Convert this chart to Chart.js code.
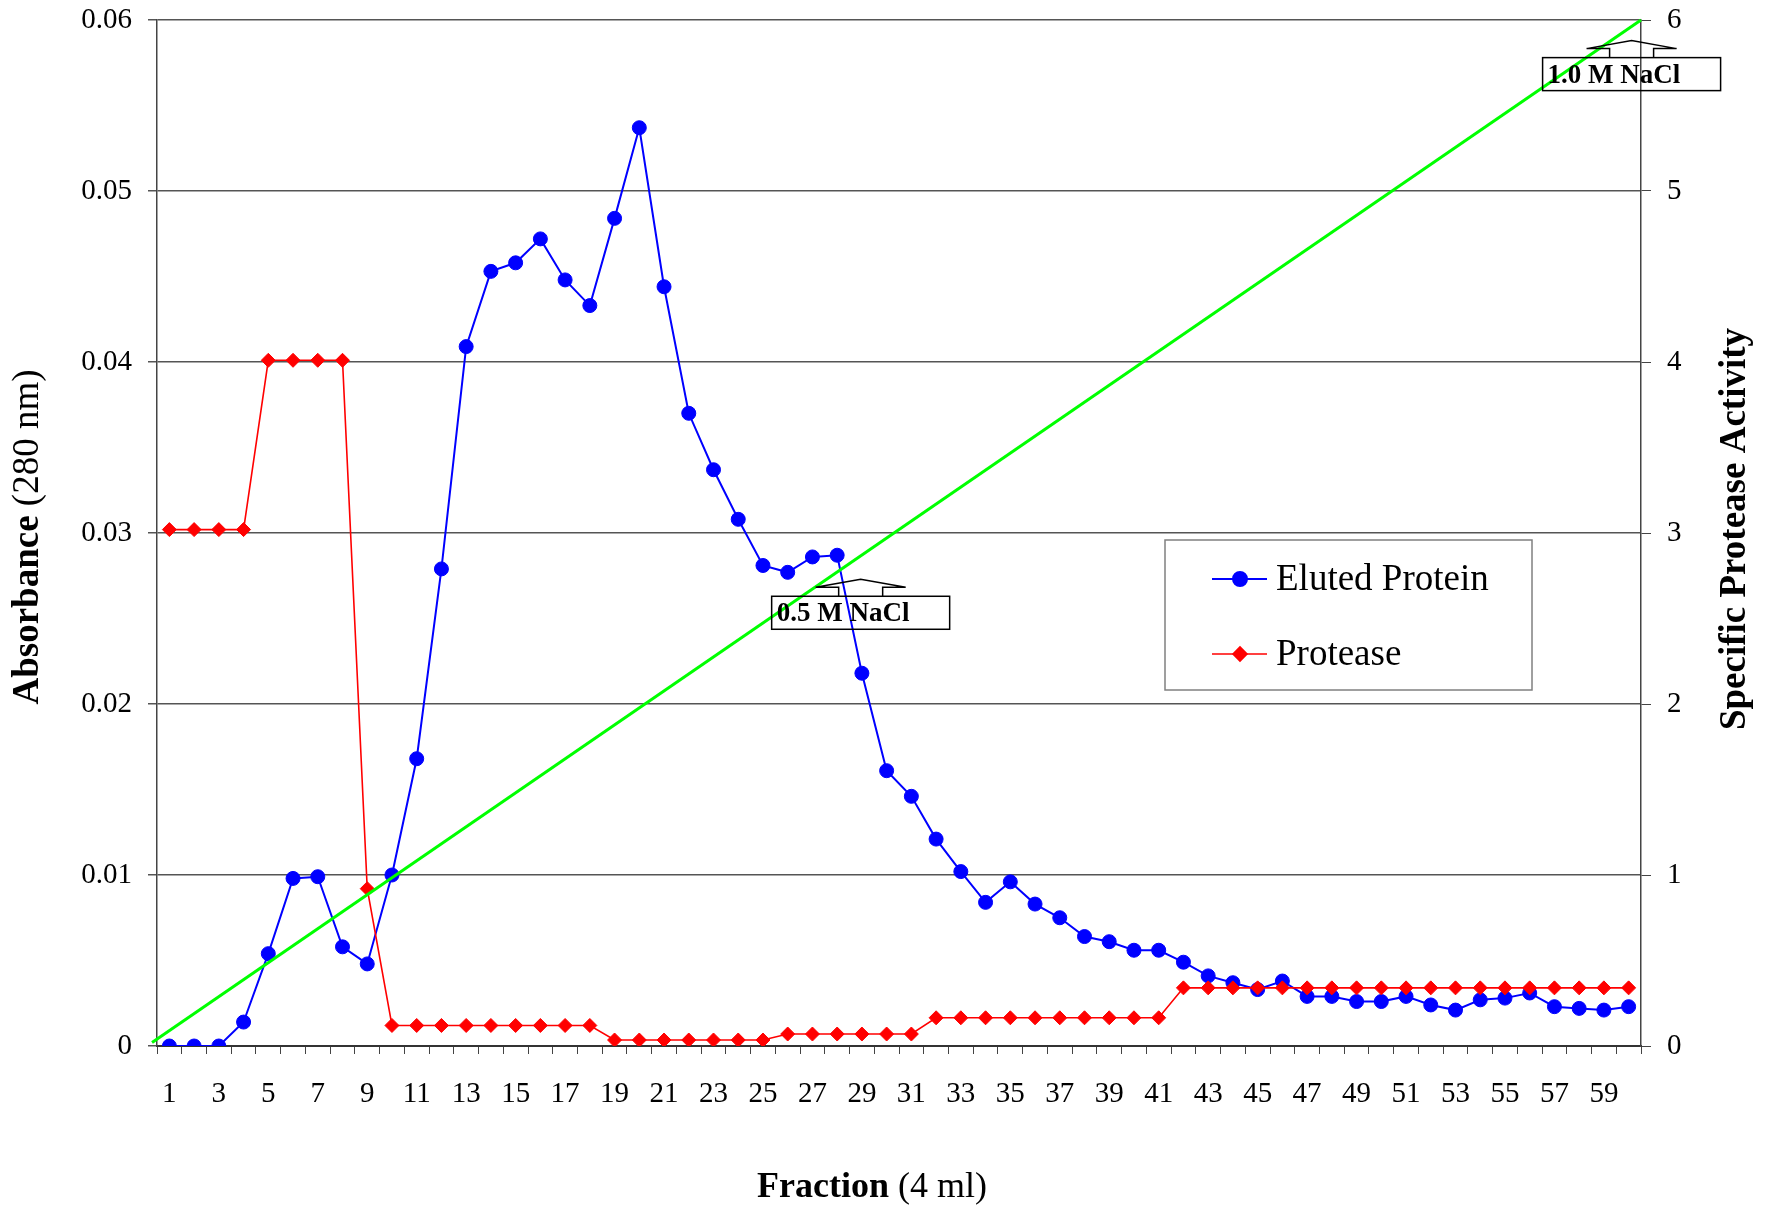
<!DOCTYPE html>
<html>
<head>
<meta charset="utf-8">
<script src="https://cdn.jsdelivr.net/npm/chart.js@4"></script>
<style>
  html, body { margin: 0; padding: 0; background: #fff; }
  #wrap { width: 1775px; height: 1208px; position: relative; }
</style>
</head>
<body>
<div id="wrap"><canvas id="chart"></canvas></div>
<script>
// fraction numbers (4 ml each)
let fractions = [1, 2, 3, 4, 5, 6, 7, 8, 9, 10, 11, 12, 13, 14, 15, 16, 17, 18, 19, 20,
  21, 22, 23, 24, 25, 26, 27, 28, 29, 30, 31, 32, 33, 34, 35, 36, 37, 38, 39, 40,
  41, 42, 43, 44, 45, 46, 47, 48, 49, 50, 51, 52, 53, 54, 55, 56, 57, 58, 59, 60];

// absorbance at 280 nm (left axis)
let elutedProtein = [0, 0, 0, 0.0014, 0.0054, 0.0098, 0.0099, 0.0058, 0.0048, 0.0100,
  0.0168, 0.0279, 0.0409, 0.0453, 0.0458, 0.0472, 0.0448, 0.0433, 0.0484, 0.0537,
  0.0444, 0.0370, 0.0337, 0.0308, 0.0281, 0.0277, 0.0286, 0.0287, 0.0218, 0.0161,
  0.0146, 0.0121, 0.0102, 0.0084, 0.0096, 0.0083, 0.0075, 0.0064, 0.0061, 0.0056,
  0.0056, 0.0049, 0.0041, 0.0037, 0.0033, 0.0038, 0.0029, 0.0029, 0.0026, 0.0026,
  0.0029, 0.0024, 0.0021, 0.0027, 0.0028, 0.0031, 0.0023, 0.0022, 0.0021, 0.0023];

// specific protease activity (right axis)
let protease = [3.02, 3.02, 3.02, 3.02, 4.01, 4.01, 4.01, 4.01, 0.92, 0.12,
  0.12, 0.12, 0.12, 0.12, 0.12, 0.12, 0.12, 0.12, 0.035, 0.035,
  0.035, 0.035, 0.035, 0.035, 0.035, 0.07, 0.07, 0.07, 0.07, 0.07,
  0.07, 0.165, 0.165, 0.165, 0.165, 0.165, 0.165, 0.165, 0.165, 0.165,
  0.165, 0.34, 0.34, 0.34, 0.34, 0.34, 0.34, 0.34, 0.34, 0.34,
  0.34, 0.34, 0.34, 0.34, 0.34, 0.34, 0.34, 0.34, 0.34, 0.34];

// NaCl gradient line (two ends, right axis units)
let gradientX = [0.3, 60.5];
let gradientY = [0.02, 6];

let callouts = [
  { text: "0.5 M NaCl", x: 28.95, y: 2.63 },
  { text: "1.0 M NaCl", x: 60.12, y: 5.78 },
];

const serif = "'Liberation Serif', 'Times New Roman', serif";

function mixedText(ctx, parts, x, y) {
  let total = 0;
  for (const p of parts) { ctx.font = p[1]; total += ctx.measureText(p[0]).width; }
  let cx = x - total / 2;
  ctx.textAlign = "left";
  ctx.textBaseline = "middle";
  for (const p of parts) {
    ctx.font = p[1];
    ctx.fillText(p[0], cx, y);
    cx += ctx.measureText(p[0]).width;
  }
}

const decorations = {
  id: "decorations",
  afterDraw(chart) {
    const ctx = chart.ctx;
    const xg = chart.scales.xg;
    const y2 = chart.scales.y2;
    ctx.save();
    ctx.fillStyle = "#000";

    // axis titles
    mixedText(ctx, [["Fraction", "bold 36px " + serif], [" (4 ml)", "36px " + serif]], 872, 1188);
    ctx.save();
    ctx.translate(28, 537);
    ctx.rotate(-Math.PI / 2);
    mixedText(ctx, [["Absorbance", "bold 37px " + serif], [" (280 nm)", "37px " + serif]], 0, 0);
    ctx.restore();
    ctx.save();
    ctx.translate(1735, 529);
    ctx.rotate(-Math.PI / 2);
    mixedText(ctx, [["Specific Protease Activity", "bold 37px " + serif]], 0, 0);
    ctx.restore();

    // callout boxes
    ctx.strokeStyle = "#000";
    ctx.lineWidth = 1.5;
    for (const c of callouts) {
      const cx = xg.getPixelForValue(c.x);
      const ty = y2.getPixelForValue(c.y);
      ctx.strokeRect(cx - 89, ty, 178, 33);
      ctx.beginPath();
      ctx.moveTo(cx - 22, ty);
      ctx.lineTo(cx - 22, ty - 9);
      ctx.lineTo(cx - 45, ty - 9);
      ctx.lineTo(cx, ty - 17);
      ctx.lineTo(cx + 45, ty - 9);
      ctx.lineTo(cx + 22, ty - 9);
      ctx.lineTo(cx + 22, ty);
      ctx.stroke();
      ctx.font = "bold 27px " + serif;
      ctx.textAlign = "left";
      ctx.textBaseline = "middle";
      ctx.fillText(c.text, cx - 84, ty + 18);
    }

    // legend
    ctx.strokeStyle = "#808080";
    ctx.lineWidth = 1.5;
    ctx.strokeRect(1165, 540, 367, 150);
    const rows = [579, 654];
    [0, 1].forEach((di, k) => {
      const ds = chart.data.datasets[di];
      const y = rows[k];
      ctx.strokeStyle = ds.borderColor;
      ctx.fillStyle = ds.backgroundColor;
      ctx.lineWidth = ds.borderWidth;
      ctx.beginPath();
      ctx.moveTo(1212, y);
      ctx.lineTo(1267, y);
      ctx.stroke();
      Chart.helpers.drawPoint(ctx, { pointStyle: ds.pointStyle, radius: ds.pointRadius, rotation: 0, borderWidth: 1 }, 1240, y);
      ctx.fillStyle = "#000";
      ctx.font = "37px " + serif;
      ctx.textAlign = "left";
      ctx.textBaseline = "middle";
      ctx.fillText(ds.label, 1276, y + 1);
    });
    ctx.restore();
  },
};

let ctx = document.getElementById("chart").getContext("2d");
let myChart = new Chart(ctx, {
  type: "line",
  data: {
    labels: fractions,
    datasets: [
      {
        label: "Eluted Protein",
        data: elutedProtein,
        yAxisID: "y",
        borderColor: "#0000FF",
        backgroundColor: "#0000FF",
        borderWidth: 2,
        pointStyle: "circle",
        pointRadius: 7,
        pointBorderWidth: 1,
        tension: 0,
        order: 2,
      },
      {
        label: "Protease",
        data: protease,
        yAxisID: "y2",
        borderColor: "#FF0000",
        backgroundColor: "#FF0000",
        borderWidth: 1.6,
        pointStyle: "rectRot",
        pointRadius: 7,
        pointBorderWidth: 1,
        tension: 0,
        order: 1,
      },
      {
        label: "NaCl gradient",
        data: gradientX.map((x, i) => ({ x: x, y: gradientY[i] })),
        xAxisID: "xg",
        yAxisID: "y2",
        borderColor: "#00FF00",
        backgroundColor: "#00FF00",
        borderWidth: 3,
        pointRadius: 0,
        clip: false,
        order: 0,
      },
    ],
  },
  options: {
    responsive: true,
    maintainAspectRatio: false,
    animation: false,
    layout: { padding: { top: 20, left: 0, right: 0, bottom: 0 } },
    plugins: {
      legend: { display: false },
      tooltip: { enabled: false },
    },
    scales: {
      x: {
        type: "category",
        offset: true,
        afterFit: (s) => { s.height = 162; },
        grid: { offset: true, drawOnChartArea: false, drawTicks: true, tickLength: 8, color: "#444" },
        border: { color: "#333", width: 2 },
        ticks: {
          autoSkip: false,
          maxRotation: 0,
          padding: 23,
          color: "#000",
          font: { family: serif, size: 29 },
          callback: function (v, i) { return i % 2 === 0 ? String(fractions[i]) : ""; },
        },
      },
      xg: {
        type: "linear",
        min: 0.5,
        max: 60.5,
        display: false,
      },
      y: {
        position: "left",
        min: 0,
        max: 0.06,
        afterFit: (s) => { s.width = 157; s.paddingTop = 0; s.paddingBottom = 0; },
        grid: { color: "#555", lineWidth: 1.5, tickLength: 9 },
        border: { color: "#444", width: 1.5 },
        ticks: {
          stepSize: 0.01,
          padding: 16,
          color: "#000",
          font: { family: serif, size: 29 },
          callback: (v) => String(+v.toFixed(2)),
        },
      },
      y2: {
        position: "right",
        min: 0,
        max: 6,
        afterFit: (s) => { s.width = 134; s.paddingTop = 0; s.paddingBottom = 0; },
        grid: { drawOnChartArea: false, color: "#444", tickLength: 10 },
        border: { color: "#444", width: 1.5 },
        ticks: {
          stepSize: 1,
          padding: 16,
          color: "#000",
          font: { family: serif, size: 29 },
        },
      },
    },
  },
  plugins: [decorations],
});
</script>
</body>
</html>
